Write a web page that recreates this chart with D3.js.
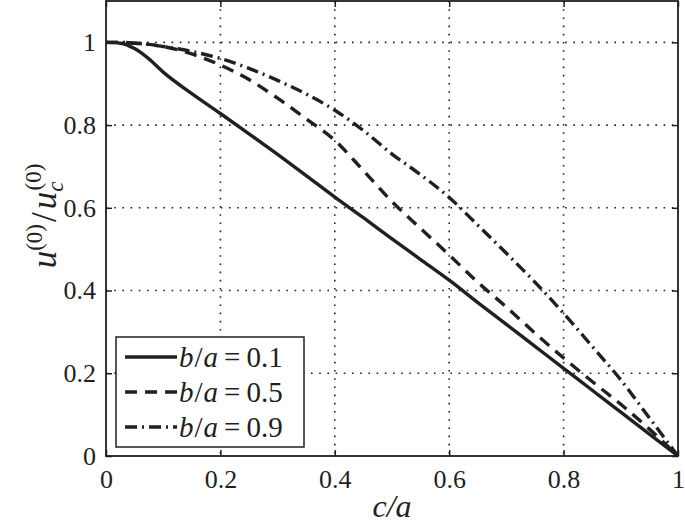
<!DOCTYPE html>
<html>
<head>
<meta charset="utf-8">
<script src="https://cdn.jsdelivr.net/npm/d3@7"></script>
<style>
  html, body { margin: 0; padding: 0; background: #fff; }
  svg { display: block; }
</style>
</head>
<body>
<svg id="chart" width="685" height="526"></svg>
<script>
// ---- data ----
const cValues = [0, 0.025, 0.05, 0.075, 0.1, 0.15, 0.2, 0.25, 0.3, 0.35, 0.4, 0.45, 0.5, 0.55, 0.6, 0.65, 0.7, 0.75, 0.8, 0.85, 0.9, 0.95, 1];
const uB01 = [1, 0.998, 0.985, 0.96, 0.928, 0.876, 0.828, 0.779, 0.729, 0.678, 0.626, 0.576, 0.525, 0.475, 0.425, 0.371, 0.318, 0.265, 0.212, 0.159, 0.106, 0.053, 0];
const uB05 = [1, 1, 0.998, 0.995, 0.99, 0.972, 0.945, 0.91, 0.865, 0.815, 0.763, 0.69, 0.615, 0.55, 0.486, 0.42, 0.36, 0.297, 0.237, 0.18, 0.125, 0.065, 0];
const uB09 = [1, 1, 0.998, 0.995, 0.99, 0.978, 0.961, 0.937, 0.908, 0.875, 0.836, 0.787, 0.73, 0.68, 0.625, 0.558, 0.49, 0.42, 0.345, 0.265, 0.184, 0.092, 0];
const seriesLabels = ["0.1", "0.5", "0.9"];
const xTicks = [0, 0.2, 0.4, 0.6, 0.8, 1];
const yTicks = [0, 0.2, 0.4, 0.6, 0.8, 1];

const seriesValues = [uB01, uB05, uB09];
const dashes = [null, "12,8", "12,5,2,5"];
const FONT = "Liberation Serif";

const svg = d3.select("#chart");
const L = 106, T = 1, R = 678, B = 456;
const x = d3.scaleLinear().domain([0, 1]).range([L, R]);
const y = d3.scaleLinear().domain([0, 1.1]).range([B, T]);
const ink = "#231f20";

// grid
const grid = svg.append("g");
xTicks.slice(1, -1).forEach(v => {
  grid.append("line").attr("x1", x(v)).attr("x2", x(v)).attr("y1", T).attr("y2", B)
    .attr("stroke", ink).attr("stroke-width", 1.6).attr("stroke-dasharray", "1.6,6.6");
});
yTicks.slice(1).forEach(v => {
  grid.append("line").attr("x1", L).attr("x2", R).attr("y1", y(v)).attr("y2", y(v))
    .attr("stroke", ink).attr("stroke-width", 1.6).attr("stroke-dasharray", "1.6,6.6");
});

// axes (inward ticks on all sides)
const tickLen = 6;
const axB = svg.append("g").attr("transform", `translate(0,${B})`)
  .call(d3.axisBottom(x).tickValues(xTicks).tickFormat(d3.format("")).tickSizeInner(-tickLen).tickSizeOuter(0).tickPadding(14));
const axT = svg.append("g").attr("transform", `translate(0,${T})`)
  .call(d3.axisTop(x).tickValues(xTicks).tickFormat("").tickSizeInner(-tickLen).tickSizeOuter(0));
const axL = svg.append("g").attr("transform", `translate(${L},0)`)
  .call(d3.axisLeft(y).tickValues(yTicks).tickFormat(d3.format("")).tickSizeInner(-tickLen).tickSizeOuter(0).tickPadding(10));
const axR = svg.append("g").attr("transform", `translate(${R},0)`)
  .call(d3.axisRight(y).tickValues(yTicks).tickFormat("").tickSizeInner(-tickLen).tickSizeOuter(0));
[axB, axT, axL, axR].forEach(a => {
  a.attr("font-family", FONT).attr("font-size", 26);
  a.select(".domain").remove();
  a.selectAll("line").attr("stroke", ink).attr("stroke-width", 1.5);
  a.selectAll("text").attr("fill", ink);
});

// box
svg.append("rect").attr("x", L).attr("y", T).attr("width", R - L).attr("height", B - T)
  .attr("fill", "none").attr("stroke", ink).attr("stroke-width", 1.8);

// curves
const line = d3.line().x(d => x(d[0])).y(d => y(d[1])).curve(d3.curveMonotoneX);
seriesValues.forEach((vals, i) => {
  const pts = cValues.map((c, k) => [c, vals[k]]);
  svg.append("path").datum(pts).attr("d", line)
    .attr("fill", "none").attr("stroke", ink).attr("stroke-width", 3.4)
    .attr("stroke-dasharray", dashes[i]);
});

// legend
const lg = svg.append("g");
lg.append("rect").attr("x", 116).attr("y", 337).attr("width", 188).attr("height", 110)
  .attr("fill", "#fff").attr("stroke", ink).attr("stroke-width", 1.5);
seriesLabels.forEach((lab, i) => {
  const yy = 357 + i * 35;
  lg.append("line").attr("x1", 125).attr("x2", 177).attr("y1", yy).attr("y2", yy)
    .attr("stroke", ink).attr("stroke-width", 3.4).attr("stroke-dasharray", dashes[i]);
  const t = lg.append("text").attr("x", 179).attr("y", yy + 10).attr("font-size", 29)
    .attr("font-family", FONT).attr("fill", ink);
  t.append("tspan").attr("font-style", "italic").text("b");
  t.append("tspan").attr("dx", 1).text("/");
  t.append("tspan").attr("font-style", "italic").attr("dx", 1).text("a");
  t.append("tspan").attr("dx", 6).text("=");
  t.append("tspan").attr("dx", 6).text(lab);
});

// x label
svg.append("text").attr("x", x(0.5)).attr("y", 517).attr("text-anchor", "middle")
  .attr("font-family", FONT).attr("font-size", 32).attr("font-style", "italic").attr("fill", ink).text("c/a");

// y label
const yl = svg.append("text").attr("transform", "translate(56,216) rotate(-90)")
  .attr("font-family", FONT).attr("text-anchor", "middle").attr("font-size", 35).attr("fill", ink);
yl.append("tspan").attr("font-style", "italic").text("u");
yl.append("tspan").attr("font-size", 23).attr("dy", -14).text("(0)");
yl.append("tspan").attr("dy", 14).attr("dx", 2).text("/");
yl.append("tspan").attr("font-style", "italic").attr("dx", 3).text("u");
yl.append("tspan").attr("font-style", "italic").attr("font-size", 23).attr("dy", 7).text("c");
yl.append("tspan").attr("font-size", 23).attr("dy", -22).attr("dx", -9).text("(0)");
</script>
</body>
</html>
